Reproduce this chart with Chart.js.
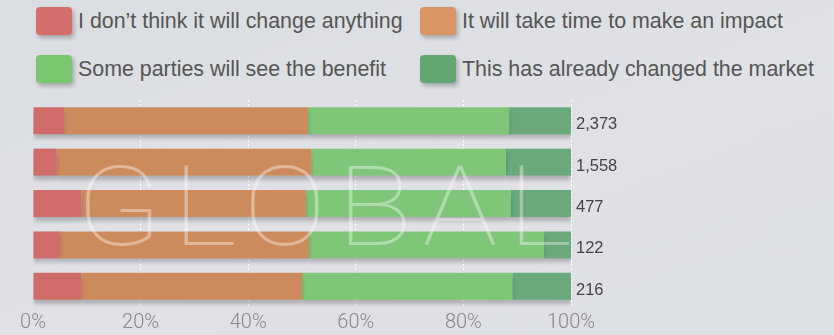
<!DOCTYPE html>
<html>
<head>
<meta charset="utf-8">
<script src="https://cdn.jsdelivr.net/npm/chart.js@4"></script>
<style>
    html, body { margin: 0; padding: 0; }
    body {
        width: 834px; height: 335px; overflow: hidden; position: relative;
        background: linear-gradient(160deg, #dadde1 0%, #dfe1e5 55%, #dcdfe3 100%);
        font-family: 'Liberation Sans', Arial, sans-serif;
    }
    #legend { position: absolute; left: 0; top: 0; width: 834px; height: 95px; }
    .item { position: absolute; height: 28px; display: flex; align-items: center; }
    .swatch {
        width: 36px; height: 28px; border-radius: 4px; margin-right: 6px;
        box-shadow: 2px 3px 4px rgba(0, 0, 0, 0.25);
    }
    .item span { font-size: 21.4px; color: #555; white-space: nowrap; }
    #wrap { position: absolute; left: 0; top: 0; width: 834px; height: 335px; }
</style>
</head>
<body>
<div id="legend"></div>
<div id="wrap"><canvas id="stackChart"></canvas></div>
<script>
// respondent counts shown to the right of each bar
const respondents = ['2,373', '1,558', '477', '122', '216'];

const seriesNames = [
    'I don\u2019t think it will change anything',
    'It will take time to make an impact',
    'Some parties will see the benefit',
    'This has already changed the market'
];

// share of answers, percent
const noChange       = [5.8, 4.4, 9.0, 5.0, 9.0];
const takeTime       = [45.3, 47.3, 41.7, 46.3, 41.0];
const someBenefit    = [37.4, 36.2, 38.1, 43.7, 39.1];
const alreadyChanged = [11.5, 12.1, 11.2, 5.0, 10.9];

const percentTicks = [0, 20, 40, 60, 80, 100];

const barColors = ['#cf6b69', '#cd8b5d', '#80c679', '#69a97c'];
const swatchColors = ['#d56d6c', '#d99563', '#78c76f', '#63a672'];

// legend in two aligned columns, like the original
const legendPos = [[36, 7], [420, 7], [36, 55], [420, 55]];
const legendEl = document.getElementById('legend');
seriesNames.forEach((name, i) => {
    const div = document.createElement('div');
    div.className = 'item';
    div.style.left = legendPos[i][0] + 'px';
    div.style.top = legendPos[i][1] + 'px';
    div.innerHTML = '<div class="swatch" style="background:' + swatchColors[i] + '"></div><span></span>';
    div.querySelector('span').textContent = name;
    legendEl.appendChild(div);
});

const allSeries = [noChange, takeTime, someBenefit, alreadyChanged];

const data = {
    labels: respondents,
    datasets: allSeries.map((values, i) => ({
        label: seriesNames[i],
        data: values,
        backgroundColor: barColors[i],
        borderWidth: 0,
        barPercentage: 0.65,
        categoryPercentage: 1
    }))
};

// soft drop shadow under the bars
const barShadow = {
    id: 'barShadow',
    beforeDatasetsDraw(chart) {
        const c = chart.ctx;
        c.save();
        c.shadowColor = 'rgba(0, 0, 0, 0.22)';
        c.shadowBlur = 4;
        c.shadowOffsetY = 4;
    },
    afterDatasetsDraw(chart) {
        chart.ctx.restore();
    }
};

// big faint "GLOBAL" over the plot
const watermark = {
    id: 'watermark',
    afterDraw(chart) {
        const c = chart.ctx;
        c.save();
        c.translate(76, 245);
        c.scale(1.12, 1);
        c.font = '100 112px Roboto';
        c.letterSpacing = '9px';
        c.fillStyle = 'rgba(255, 255, 255, 0.38)';
        c.textBaseline = 'alphabetic';
        c.textAlign = 'left';
        c.fillText('GLOBAL', 0, 0);
        c.restore();
    }
};

const options = {
    responsive: false,
    animation: false,
    indexAxis: 'y',
    layout: { padding: { top: 100, left: 33, right: 0, bottom: 0 } },
    plugins: {
        legend: { display: false },
        tooltip: { enabled: false }
    },
    scales: {
        x: {
            stacked: true,
            min: 0,
            max: 100,
            z: 1,
            afterBuildTicks: (scale) => {
                scale.ticks = percentTicks.map(v => ({ value: v }));
            },
            ticks: {
                callback: (v) => v + '%',
                color: '#888',
                font: { family: 'Roboto', size: 20, weight: 300 },
                padding: 4,
                maxRotation: 0
            },
            grid: {
                color: (ctx) => ctx.tick && ctx.tick.value === 0 ? 'rgba(0,0,0,0)' : 'rgba(255,255,255,0.95)',
                lineWidth: 1,
                drawTicks: false
            },
            border: { display: false, dash: [2, 2] },
            afterFit: (scale) => { scale.height = 28; }
        },
        y: {
            stacked: true,
            position: 'right',
            grid: { display: false, drawTicks: false },
            border: { display: false },
            ticks: {
                color: '#444',
                font: { family: 'Liberation Sans', size: 16.5 },
                padding: 5,
                labelOffset: 4
            },
            afterFit: (scale) => { scale.width = 263; }
        }
    }
};

const canvas = document.getElementById('stackChart');
canvas.width = 834;
canvas.height = 335;
new Chart(canvas.getContext('2d'), {
    type: 'bar',
    data: data,
    options: options,
    plugins: [barShadow, watermark]
});
</script>
</body>
</html>
